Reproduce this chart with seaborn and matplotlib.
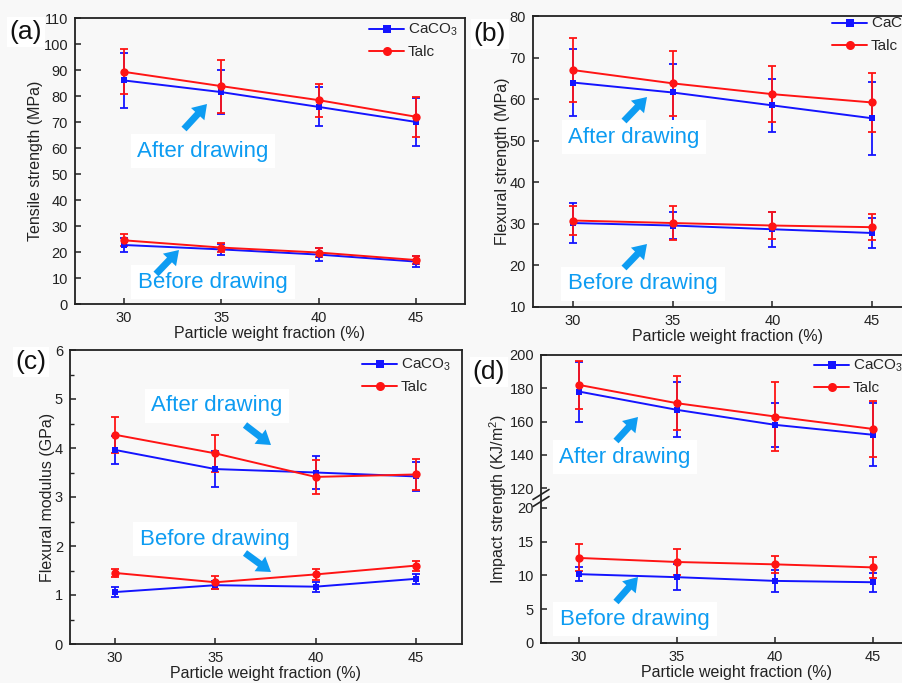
import numpy as np
import pandas as pd
import matplotlib
matplotlib.use("Agg")
import matplotlib.pyplot as plt
from matplotlib.lines import Line2D
from matplotlib.patches import FancyArrowPatch
import seaborn as sns

# ---------------- data ----------------
fraction = [30, 35, 40, 45]

# (a) Tensile strength (MPa)
a_caco3_after = [86.0, 81.5, 75.8, 70.0]
a_caco3_after_err = [10.5, 8.4, 7.5, 9.3]
a_talc_after = [89.3, 83.8, 78.4, 72.0]
a_talc_after_err = [8.6, 10.2, 6.4, 7.6]
a_caco3_before = [22.7, 21.0, 19.0, 16.3]
a_caco3_before_err = [2.7, 2.2, 2.5, 2.0]
a_talc_before = [24.5, 21.7, 19.8, 16.9]
a_talc_before_err = [2.3, 1.8, 1.6, 1.7]

# (b) Flexural strength (MPa)
b_caco3_after = [64.0, 61.6, 58.5, 55.4]
b_caco3_after_err = [8.0, 6.8, 6.3, 8.8]
b_talc_after = [67.0, 63.8, 61.2, 59.2]
b_talc_after_err = [7.6, 7.9, 6.7, 7.1]
b_caco3_before = [30.2, 29.6, 28.7, 27.8]
b_caco3_before_err = [4.9, 3.2, 4.2, 3.7]
b_talc_before = [30.8, 30.2, 29.6, 29.2]
b_talc_before_err = [3.6, 4.0, 3.3, 3.2]

# (c) Flexural modulus (GPa)
c_caco3_after = [3.96, 3.57, 3.50, 3.42]
c_caco3_after_err = [0.28, 0.37, 0.33, 0.30]
c_talc_after = [4.27, 3.89, 3.41, 3.46]
c_talc_after_err = [0.37, 0.38, 0.35, 0.32]
c_caco3_before = [1.06, 1.20, 1.17, 1.33]
c_caco3_before_err = [0.11, 0.08, 0.10, 0.10]
c_talc_before = [1.45, 1.26, 1.42, 1.60]
c_talc_before_err = [0.08, 0.13, 0.11, 0.10]

# (d) Impact strength (KJ/m2)
d_caco3_after = [178.0, 167.0, 158.0, 152.0]
d_caco3_after_err = [18.0, 16.5, 13.2, 19.0]
d_talc_after = [182.0, 171.0, 163.0, 155.5]
d_talc_after_err = [14.6, 16.2, 21.0, 17.0]
d_caco3_before = [10.2, 9.75, 9.2, 9.0]
d_caco3_before_err = [1.0, 1.9, 1.6, 1.4]
d_talc_before = [12.6, 12.0, 11.65, 11.2]
d_talc_before_err = [2.0, 1.9, 1.3, 1.6]

materials = ["CaCO$_3$", "Talc"]
xlabel = "Particle weight fraction (%)"
ylabels = ["Tensile strength (MPa)", "Flexural strength (MPa)",
           "Flexural modulus (GPa)", "Impact strength (KJ/m$^2$)"]
panel_letters = ["(a)", "(b)", "(c)", "(d)"]
note_after = "After drawing"
note_before = "Before drawing"

# ---------------- style ----------------
sns.set_style("ticks")
plt.rcParams["font.family"] = ["Liberation Sans", "DejaVu Sans"]
plt.rcParams["mathtext.default"] = "regular"

W, H = 903, 683
BG = "#f8f8f8"
BLUE = "#1414ff"
RED = "#ff1414"
NOTE = "#0d9cf2"
SPINE = "#222222"

fig = plt.figure(figsize=(W / 100, H / 100), dpi=100, facecolor=BG)


def rect(l, t, r, b):
    return [l / W, 1 - b / H, (r - l) / W, (b - t) / H]


def fp(x, y):
    return (x / W, 1 - y / H)


def draw_series(ax, vals, errs, color, marker, ms):
    df = pd.DataFrame({"x": fraction, "y": vals})
    ax.errorbar(fraction, vals, yerr=errs, fmt="none", ecolor=color,
                elinewidth=1.3, capsize=3.2, capthick=1.3, zorder=3)
    sns.lineplot(data=df, x="x", y="y", ax=ax, color=color, marker=marker,
                 markersize=ms, markeredgewidth=0, linewidth=1.4,
                 legend=False, zorder=4)


def style_axes(ax, ylabel):
    ax.set_facecolor(BG)
    for s in ax.spines.values():
        s.set_color(SPINE)
        s.set_linewidth(1.3)
        s.set_visible(True)
    ax.tick_params(direction="in", length=4.5, width=1.1, color=SPINE,
                   labelsize=10.5, pad=5, labelcolor="#222222")
    ax.tick_params(which="minor", direction="in", length=3, width=1.0, color=SPINE)
    ax.set_xticks(fraction)
    ax.set_xlabel(xlabel, fontsize=11.5, labelpad=1, color="#222222")
    ax.set_ylabel(ylabel, fontsize=11.5, labelpad=0, color="#222222")


panels = [
    dict(rect=rect(75, 18, 465, 304), xlim=(27.5, 47.5), ylim=(0, 110),
         yticks=np.arange(0, 111, 10),
         data=[(a_caco3_after, a_caco3_after_err, a_caco3_before, a_caco3_before_err),
               (a_talc_after, a_talc_after_err, a_talc_before, a_talc_before_err)],
         letter=(26, 32), legend=(369, 22),
         after=(203, 151), after_arrow=((184, 129), (207, 104)),
         before=(213, 282), before_arrow=((156, 274), (179, 250))),
    dict(rect=rect(533, 16, 922, 307), xlim=(28.0, 47.5), ylim=(10, 80),
         yticks=np.arange(10, 81, 10),
         data=[(b_caco3_after, b_caco3_after_err, b_caco3_before, b_caco3_before_err),
               (b_talc_after, b_talc_after_err, b_talc_before, b_talc_before_err)],
         letter=(490, 34), legend=(832, 16),
         after=(634, 137), after_arrow=((624, 121), (647, 97)),
         before=(643, 284), before_arrow=((624, 268), (647, 244))),
    dict(rect=rect(70, 350, 462, 644), xlim=(27.75, 47.3), ylim=(0, 6),
         yticks=np.arange(0, 7, 1),
         data=[(c_caco3_after, c_caco3_after_err, c_caco3_before, c_caco3_before_err),
               (c_talc_after, c_talc_after_err, c_talc_before, c_talc_before_err)],
         letter=(31, 362), legend=(362, 357),
         after=(217, 406), after_arrow=((245, 425), (271, 445)),
         before=(215, 539), before_arrow=((245, 553), (271, 572))),
    dict(rect=rect(541, 355, 932, 643), xlim=(28.06, 48.0), ylim=(0, 200),
         yticks=[0, 5, 10, 15, 20, 120, 140, 160, 180, 200],
         data=[(d_caco3_after, d_caco3_after_err, d_caco3_before, d_caco3_before_err),
               (d_talc_after, d_talc_after_err, d_talc_before, d_talc_before_err)],
         letter=(489, 372), legend=(814, 358),
         after=(625, 457), after_arrow=((616, 441), (638, 417)),
         before=(635, 619), before_arrow=((616, 602), (638, 577))),
]

# broken-axis scale for panel (d): 0-20 lower part, 120-200 upper part
GAP = 2.96
K = 0.2463


def brk_fwd(y):
    y = np.asarray(y, dtype=float)
    return np.where(y <= 20, y,
                    np.where(y >= 120, 20 + GAP + (y - 120) * K,
                             20 + (y - 20) * GAP / 100))


def brk_inv(t):
    t = np.asarray(t, dtype=float)
    return np.where(t <= 20, t,
                    np.where(t >= 20 + GAP, 120 + (t - 20 - GAP) / K,
                             20 + (t - 20) * 100 / GAP))


for i, p in enumerate(panels):
    ax = fig.add_axes(p["rect"])
    if i == 3:
        ax.set_yscale("function", functions=(brk_fwd, brk_inv))
    (ca, cae, cb, cbe), (ta, tae, tb, tbe) = p["data"]
    draw_series(ax, ca, cae, BLUE, "s", 5.0)
    draw_series(ax, cb, cbe, BLUE, "s", 5.0)
    draw_series(ax, ta, tae, RED, "o", 6.0)
    draw_series(ax, tb, tbe, RED, "o", 6.0)
    style_axes(ax, ylabels[i])
    ax.set_xlim(*p["xlim"])
    ax.set_ylim(*p["ylim"])
    ax.set_yticks(p["yticks"])
    ax.set_yticklabels([str(v) for v in p["yticks"]])
    if i == 2:
        ax.set_yticks(np.arange(0.5, 6, 1), minor=True)
    else:
        ax.minorticks_off()
        ax.set_xticks(fraction)

    if i == 3:
        # break marks on the left spine
        yb = 1 - (498 - 355) / 288
        dx, dy = 8 / 391, 5 / 288
        for off in (-3.5 / 288, 3.5 / 288):
            ax.plot([-dx, dx], [yb + off - dy, yb + off + dy], transform=ax.transAxes,
                    color=SPINE, lw=1.2, clip_on=False, zorder=6)

    # legend
    handles = [Line2D([], [], color=BLUE, marker="s", markersize=5.5, lw=1.4, markeredgewidth=0),
               Line2D([], [], color=RED, marker="o", markersize=6.5, lw=1.4, markeredgewidth=0)]
    lx, ly = p["legend"]
    ax.legend(handles, materials, loc="upper left", bbox_to_anchor=fp(lx, ly),
              bbox_transform=fig.transFigure, frameon=False, fontsize=11,
              handlelength=2.3, handletextpad=0.25, labelspacing=0.45,
              borderpad=0, borderaxespad=0)

    # annotations
    for key, txt in (("after", note_after), ("before", note_before)):
        x, y = p[key]
        fig.text(*fp(x, y), txt, ha="center", va="center", fontsize=16, color=NOTE,
                 bbox=dict(boxstyle="square,pad=0.3", fc="white", ec="none"), zorder=10)
        (x0, y0), (x1, y1) = p[key + "_arrow"]
        fig.add_artist(FancyArrowPatch(
            fp(x0, y0), fp(x1, y1), transform=fig.transFigure,
            arrowstyle="simple,head_length=1.1,head_width=1.45,tail_width=0.55",
            mutation_scale=9, color=NOTE, lw=0,
            shrinkA=0, shrinkB=0, zorder=11))

    # panel letter (drawn beneath the axes so tick labels stay visible)
    fig.text(*fp(*p["letter"]), panel_letters[i], ha="center", va="center",
             fontsize=19, color="#111111",
             bbox=dict(boxstyle="square,pad=0.1", fc="white", ec="none"), zorder=-1)

fig.savefig("out.png", dpi=100, facecolor=BG)
